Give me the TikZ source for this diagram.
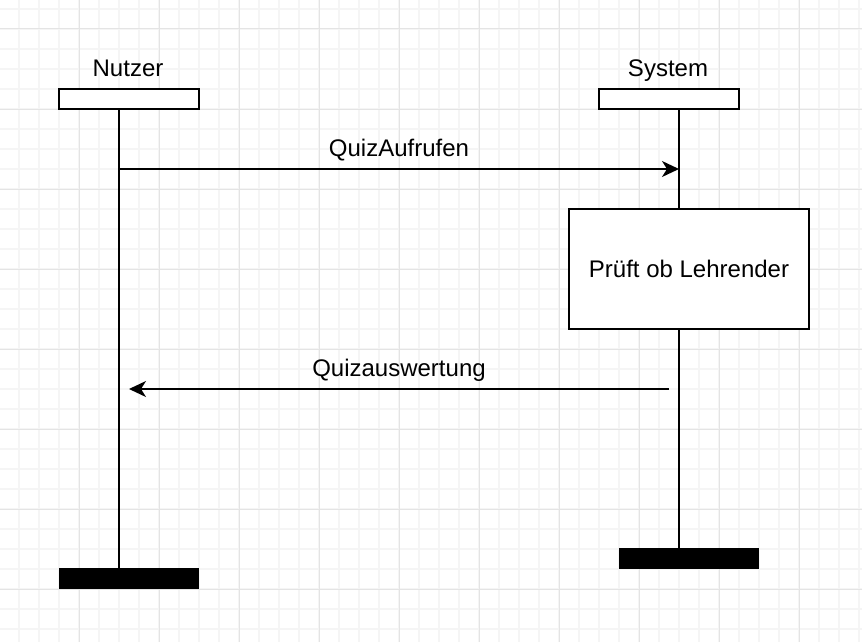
\documentclass[tikz,border=0pt]{standalone}
\usepackage{fontspec}
\setmainfont{Liberation Sans}
\usetikzlibrary{arrows.meta, positioning}
\definecolor{gridminor}{HTML}{F5F5F5}
\definecolor{gridmajor}{HTML}{E4E4E4}

\begin{document}
\begin{tikzpicture}[x=1pt, y=-1pt, line width=1.5pt,
  every node/.style={font=\fontsize{24}{28}\selectfont},
  kopf/.style={draw, fill=white, minimum width=140pt, minimum height=20pt, inner sep=0pt},
  ende/.style={fill=black, minimum width=140pt, minimum height=21pt, inner sep=0pt},
  aktiv/.style={draw, fill=white, minimum width=240pt, minimum height=120pt, inner sep=0pt},
  nachricht/.style={-{Stealth[length=17pt, width=16pt, inset=5pt]}}]
\useasboundingbox (0,0) rectangle (862,642);
\fill[white] (0,0) rectangle (862,642);
% grid
\draw[gridminor, line width=1.5pt] \foreach \gx in {19,39,...,859} {(\gx,0) -- (\gx,642)};
\draw[gridminor, line width=1.5pt] \foreach \gy in {9,29,...,629} {(0,\gy) -- (862,\gy)};
\draw[gridmajor, line width=1pt] \foreach \gx in {79,159,...,799} {(\gx,0) -- (\gx,642)};
\draw[gridmajor, line width=1pt] \foreach \gy in {29,109,...,589} {(0,\gy) -- (862,\gy)};
% lifelines
\coordinate (nutzeroben) at (119,109);
\coordinate (nutzerunten) at (119,568);
\coordinate (systemoben) at (679,109);
\coordinate (systemunten) at (679,548);
\node[kopf] (nutzerkopf) at (129,99) {};
\node[anchor=base] (nutzer) at (128,77) {Nutzer};
\node[kopf] (systemkopf) at (669,99) {};
\node[anchor=base] (system) at (668,77) {System};
\node[aktiv] (pruef) at (689,269) {Prüft ob Lehrender};
\node[ende] (nutzerende) at (129,578.5) {};
\node[ende] (systemende) at (689,558.5) {};
\draw (nutzeroben) -- (nutzerunten);
\draw (systemoben) -- (pruef.north -| systemoben);
\draw (pruef.south -| systemoben) -- (systemunten);
% messages
\coordinate (aufruf1) at (119,169);
\coordinate (aufruf2) at (679,169);
\coordinate (auswert1) at (669,389);
\coordinate (auswert2) at (129,389);
\draw[nachricht] (aufruf1) -- node[midway, anchor=base, yshift=13pt] (aufruf) {QuizAufrufen} (aufruf2);
\draw[nachricht] (auswert1) -- node[midway, anchor=base, yshift=13pt] (auswertung) {Quizauswertung} (auswert2);
\end{tikzpicture}
\end{document}
